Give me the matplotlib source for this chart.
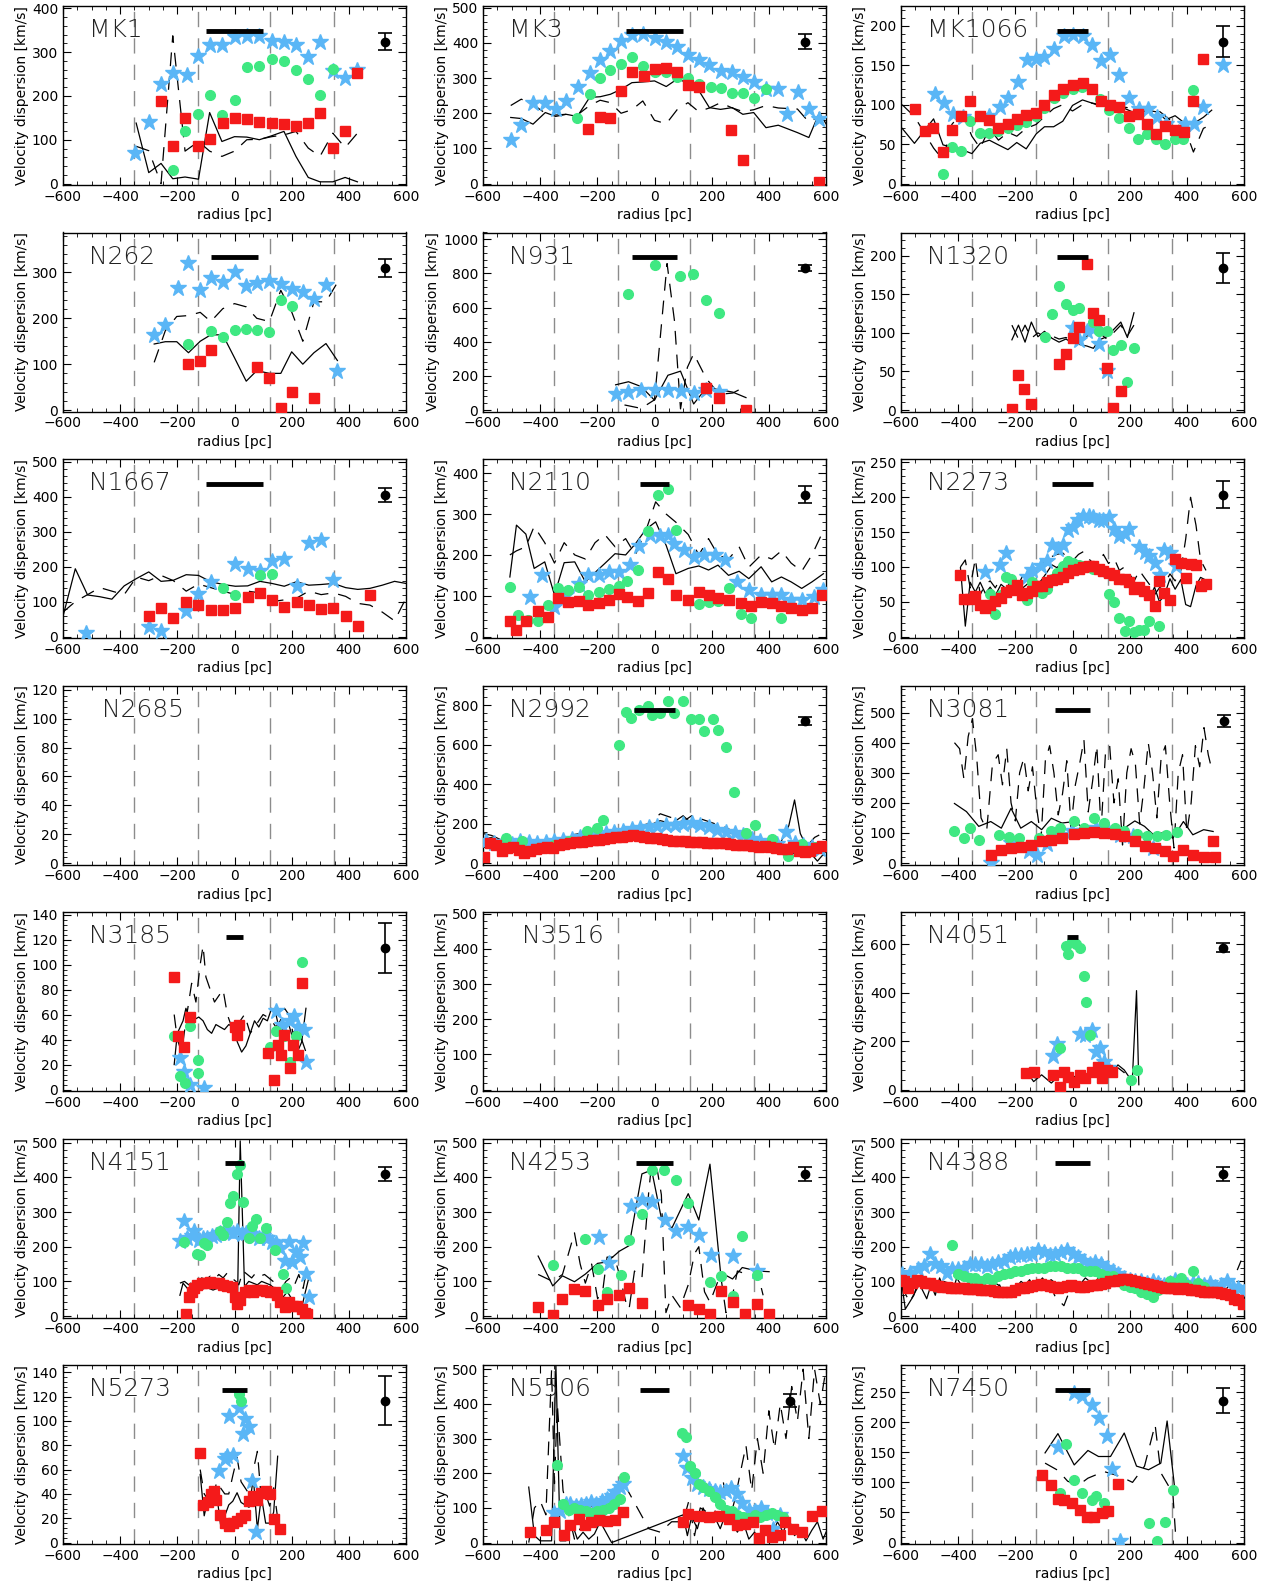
import matplotlib
matplotlib.use("Agg")
import matplotlib.pyplot as plt
from matplotlib.ticker import MultipleLocator, AutoMinorLocator

plt.rcParams['font.family'] = ['DejaVu Sans']

# ---------------- data ----------------
# s = blue stars, g = green circles, r = red squares, l = solid line, d = dashed line

# MK1
mk1_sx = [-347, -300, -257, -216, -167, -126, -85, -44, 0, 43, 87, 130, 173, 215, 258, 299, 344, 387, 430]
mk1_sy = [70, 141, 228, 252, 247, 292, 316, 316, 335, 337, 337, 326, 322, 316, 288, 324, 256, 241, 258]
mk1_gx = [-216, -173, -128, -87, -44, 0, 43, 87, 130, 173, 215, 258, 299, 344]
mk1_gy = [31, 119, 158, 203, 156, 190, 265, 268, 284, 279, 258, 238, 202, 262]
mk1_rx = [-257, -216, -172, -128, -87, -41, 0, 43, 84, 130, 173, 215, 258, 299, 344, 387, 430]
mk1_ry = [188, 86, 149, 86, 102, 138, 149, 147, 141, 139, 135, 131, 138, 162, 81, 120, 252]
mk1_lx = [-344, -300, -257, -216, -173, -126, -87, -44, 0, 43, 87, 130, 173, 215, 258, 299, 344, 387, 430]
mk1_ly = [138, 25, 46, 11, 15, 10, 162, 96, 107, 106, 100, 109, 119, 62, 14, 4, 4, 14, 4]
mk1_dx = [-344, -300, -257, -216, -173, -126, -87, -44, 0, 43, 87, 130, 173, 215, 258, 299, 344, 387, 430]
mk1_dy = [85, 75, 0, 337, 74, 96, 74, 62, 74, 100, 101, 107, 111, 119, 81, 62, 115, 82, 115]

# MK3
mk3_sx = [-503, -466, -425, -382, -346, -309, -268, -227, -190, -154, -117, -79, -41, 0, 41, 79, 117, 154, 192,
          231, 272, 309, 347, 390, 433, 464, 501, 539, 577]
mk3_sy = [123, 166, 228, 228, 213, 235, 276, 314, 352, 376, 406, 422, 425, 415, 403, 387, 365, 352, 337,
          321, 316, 302, 289, 268, 268, 199, 261, 213, 183]
mk3_gx = [-270, -227, -190, -154, -117, -79, -41, 0, 41, 79, 117, 154, 196, 233, 272, 309, 347, 390]
mk3_gy = [186, 254, 300, 323, 341, 361, 334, 317, 317, 303, 300, 284, 275, 272, 258, 257, 242, 268]
mk3_rx = [-233, -190, -154, -117, -78, -37, 0, 41, 79, 117, 154, 268, 309, 577]
mk3_ry = [155, 188, 186, 262, 316, 306, 325, 328, 316, 280, 276, 152, 66, 5]
mk3_lx = [-503, -466, -425, -382, -346, -309, -270, -227, -190, -154, -117, -79, -41, 0, 41, 79, 117, 154, 192,
          231, 272, 309, 347, 390, 433, 500, 540, 577, 600]
mk3_ly = [188, 185, 169, 202, 191, 197, 191, 245, 247, 254, 268, 287, 289, 292, 276, 297, 287, 266, 216,
          211, 216, 197, 202, 159, 166, 145, 131, 202, 170]
mk3_dx = [-503, -466, -425, -382, -346, -309, -270, -227, -190, -154, -117, -79, -41, 0, 41, 79, 117, 154, 192,
          231, 272, 309, 347, 390, 433, 500, 540, 577]
mk3_dy = [222, 240, 225, 200, 195, 197, 195, 222, 237, 230, 200, 210, 235, 180, 170, 210, 230, 205, 215,
          230, 215, 205, 210, 222, 215, 212, 175, 190]

# MK1066
mk1066_sx = [-482, -451, -418, -383, -291, -255, -224, -192, -160, -127, -99, -63, -31, 0, 35, 68, 99, 132, 164,
             199, 231, 263, 295, 327, 394, 426, 458, 528]
mk1066_sy = [114, 102, 88, 84, 86, 97, 108, 129, 157, 158, 160, 171, 187, 188, 187, 176, 155, 163, 138,
             108, 95, 95, 84, 76, 76, 76, 97, 150]
mk1066_gx = [-453, -422, -389, -358, -323, -291, -259, -226, -195, -162, -129, -98, -66, -34, 0, 33, 97, 129,
             164, 196, 228, 260, 292, 324, 359, 388, 423]
mk1066_gy = [12, 46, 41, 79, 64, 64, 67, 70, 74, 78, 85, 96, 108, 115, 120, 123, 107, 93,
             83, 70, 56, 63, 56, 50, 57, 57, 118]
mk1066_rx = [-551, -517, -488, -453, -422, -389, -358, -323, -291, -259, -226, -195, -162, -129, -98, -66, -34,
             0, 35, 68, 99, 132, 164, 196, 228, 260, 292, 324, 359, 391, 423, 458]
mk1066_ry = [95, 67, 70, 40, 68, 86, 105, 86, 80, 70, 76, 82, 87, 90, 100, 112, 120,
             125, 127, 120, 104, 100, 97, 86, 88, 75, 63, 73, 68, 65, 105, 158]
mk1066_lx = [-596, -553, -486, -453, -387, -352, -323, -291, -259, -226, -195, -162, -127, -98, -66, -34, 0, 35,
             68, 99, 132, 164, 196, 228, 260, 292, 327, 359, 391, 423, 458, 487]
mk1066_ly = [70, 51, 82, 49, 43, 38, 51, 55, 49, 43, 52, 44, 63, 72, 72, 79, 99, 106,
             102, 98, 98, 98, 93, 88, 93, 91, 81, 86, 77, 76, 84, 93]
mk1066_dx = [-596, -553, -486, -453, -422, -387, -352, -323, -291, -259, -226, -195, -162, -127, -98, -66, -34,
             0, 35, 68, 99, 132, 164, 196, 228, 260, 292, 327, 359, 391, 423, 458, 487]
mk1066_dy = [100, 85, 45, 30, 75, 90, 60, 45, 70, 55, 65, 60, 70, 75, 85, 95, 100,
             92, 100, 102, 100, 96, 98, 96, 92, 96, 95, 85, 75, 72, 40, 70, 75]

# N262
n262_sx = [-283, -242, -199, -161, -120, -83, -41, 0, 41, 78, 122, 162, 200, 239, 278, 320, 360]
n262_sy = [164, 186, 266, 320, 261, 288, 279, 300, 270, 277, 282, 275, 264, 257, 241, 273, 86]
n262_gx = [-161, -83, -41, 0, 41, 78, 119, 162, 200]
n262_gy = [143, 173, 159, 175, 177, 175, 170, 239, 226]
n262_rx = [-161, -122, -83, 78, 119, 162, 200, 278]
n262_ry = [101, 107, 131, 93, 71, 4, 39, 27]
n262_lx = [-281, -242, -202, -161, -120, -83, -41, 0, 41, 78, 122, 162, 200, 239, 278, 320, 360]
n262_ly = [144, 149, 149, 125, 150, 164, 164, 114, 63, 86, 80, 80, 127, 100, 125, 145, 108]
n262_dx = [-281, -242, -202, -161, -120, -83, -41, 0, 41, 78, 122, 162, 200, 239, 278, 320, 360]
n262_dy = [104, 173, 204, 206, 213, 193, 221, 232, 225, 200, 193, 261, 214, 150, 236, 236, 278]

# N931
n931_sx = [-136, -91, -47, 0, 47, 91, 137, 181, 225]
n931_sy = [97, 105, 116, 116, 116, 110, 101, 120, 105]
n931_gx = [-91, 0, 90, 136, 181, 227]
n931_gy = [677, 852, 787, 798, 643, 568]
n931_rx = [181, 227, 320]
n931_ry = [129, 73, 2]
n931_lx = [-136, -91, -47, 0, 47, 91, 137, 181, 227, 274, 320]
n931_ly = [148, 166, 138, 58, 204, 228, 36, 129, 120, 105, 73]
n931_dx = [-105, -47, 0, 44, 70, 91, 115, 137, 181, 227, 274, 320]
n931_dy = [30, 10, 60, 858, 521, 7, 250, 330, 185, 92, 100, 140]

# N1320
n1320_sx = [0, 24, 50, 70, 94, 120]
n1320_sy = [106, 91, 103, 105, 86, 51]
n1320_gx = [-95, -72, -47, -23, 0, 24, 70, 94, 120, 143, 169, 192, 215]
n1320_gy = [95, 124, 161, 137, 129, 132, 114, 102, 102, 78, 84, 37, 80]
n1320_rx = [-213, -189, -168, -144, -47, -23, 0, 24, 50, 73, 94, 120, 143, 169]
n1320_ry = [1, 45, 27, 8, 60, 73, 94, 107, 189, 126, 117, 54, 3, 25]
n1320_lx = [-212, -189, -166, -144, -121, -98, -72, -47, -23, 0, 24, 50, 73, 94, 120, 143, 169, 192, 215]
n1320_ly = [91, 110, 88, 114, 95, 102, 93, 88, 92, 87, 85, 83, 80, 91, 95, 104, 114, 94, 126]
n1320_dx = [-212, -189, -166, -144, -121, -98, -72, -47, -23, 0, 24, 50, 73, 94, 120, 143, 169, 192, 215]
n1320_dy = [110, 92, 110, 93, 100, 95, 96, 92, 94, 90, 92, 95, 123, 100, 92, 100, 110, 96, 110]

# N1667
n1667_sx = [-520, -300, -257, -169, -126, -83, 3, 46, 89, 131, 174, 217, 260, 303, 346]
n1667_sy = [10, 27, 17, 72, 122, 155, 208, 192, 187, 216, 223, 145, 267, 277, 163]
n1667_gx = [-40, 3, 89, 131]
n1667_gy = [138, 119, 177, 180]
n1667_rx = [-300, -257, -214, -169, -126, -83, -40, 3, 46, 89, 131, 174, 217, 260, 303, 346, 389, 431, 474]
n1667_ry = [58, 83, 53, 100, 91, 76, 76, 81, 114, 126, 105, 86, 98, 91, 79, 83, 58, 29, 119]
n1667_lx = [-600, -557, -514, -471, -429, -386, -343, -300, -257, -214, -169, -126, -83, -40, 3, 46, 89, 131,
            174, 217, 260, 303, 346, 389, 431, 474, 517, 560, 600]
n1667_ly = [58, 194, 119, 114, 107, 145, 166, 185, 158, 161, 177, 175, 157, 149, 144, 145, 158, 152,
            144, 157, 147, 149, 152, 140, 135, 138, 147, 158, 152]
n1667_dx = [-600, -557, -514, -471, -429, -386, -343, -300, -257, -214, -169, -126, -83, -40, 3, 46, 89, 131,
            174, 217, 260, 303, 346, 389, 431, 474, 517, 560, 600]
n1667_dy = [70, 100, 120, 140, 130, 120, 170, 160, 175, 160, 130, 150, 140, 130, 120, 130, 125, 100,
            105, 110, 130, 120, 125, 115, 95, 90, 70, 45, 110]

# N2110
n2110_sx = [-435, -393, -350, -308, -265, -231, -194, -158, -124, -87, -53, -16, 18, 47, 69, 104, 138, 174, 211,
            245, 288, 330, 373, 410, 444, 478, 515, 557, 591]
n2110_sy = [98, 152, 72, 102, 130, 152, 152, 157, 158, 175, 223, 249, 247, 249, 227, 211, 195, 199, 200,
            187, 134, 114, 102, 102, 101, 90, 90, 96, 114]
n2110_gx = [-506, -478, -441, -407, -373, -339, -302, -265, -231, -194, -158, -124, -95, -58, -24, 13, 47, 75,
            118, 155, 189, 222, 259, 302, 336, 444]
n2110_gy = [122, 54, 40, 38, 78, 118, 113, 122, 102, 109, 117, 125, 136, 163, 259, 346, 361, 261,
            90, 80, 84, 88, 118, 56, 46, 46]
n2110_rx = [-506, -486, -450, -407, -373, -339, -302, -265, -231, -194, -158, -124, -95, -58, -24, 13, 47, 75,
            118, 155, 189, 222, 259, 302, 336, 373, 410, 444, 478, 515, 551, 586]
n2110_ry = [39, 15, 39, 62, 47, 94, 84, 88, 78, 82, 90, 104, 96, 88, 106, 158, 140, 102,
            90, 110, 102, 94, 90, 82, 74, 84, 82, 74, 70, 66, 70, 102]
n2110_lx = [-506, -483, -450, -421, -384, -350, -316, -279, -242, -208, -174, -138, -101, -67, -30, 4, 41, 75,
            118, 155, 189, 222, 259, 296, 330, 373, 410, 444, 478, 515, 551, 591]
n2110_ly = [146, 273, 251, 167, 183, 102, 181, 183, 134, 157, 179, 203, 200, 227, 263, 281, 223, 154,
            167, 173, 163, 175, 150, 160, 142, 171, 134, 146, 134, 118, 134, 154]
n2110_dx = [-506, -483, -450, -421, -384, -350, -316, -279, -242, -208, -174, -138, -101, -67, -30, 4, 41, 75,
            118, 155, 189, 222, 259, 296, 330, 373, 410, 444, 478, 515, 551, 591]
n2110_dy = [200, 210, 220, 270, 230, 180, 230, 200, 190, 230, 250, 220, 240, 200, 260, 330, 300, 280,
            250, 200, 240, 200, 190, 220, 170, 200, 190, 210, 180, 160, 200, 260]

# N2273
n2273_sx = [-305, -253, -233, -159, -142, -111, -90, -72, -52, -34, -14, 3, 19, 36, 56, 73, 91, 108, 126, 146,
            164, 182, 199, 234, 252, 269, 289, 306, 321, 341, 362]
n2273_sy = [93, 103, 120, 86, 96, 101, 108, 131, 126, 131, 153, 157, 167, 173, 173, 171, 168, 168, 171, 154,
            145, 148, 155, 129, 122, 115, 106, 89, 124, 120, 101]
n2273_gx = [-288, -270, -250, -233, -214, -177, -159, -142, -125, -107, -90, -72, -55, -34, -14, 3, 21, 38, 56,
            73, 126, 146, 164, 182, 199, 215, 233, 250, 269, 304]
n2273_gy = [61, 33, 60, 86, 83, 59, 52, 78, 65, 62, 69, 83, 91, 101, 109, 106, 103, 101, 100,
            97, 61, 50, 26, 8, 23, 6, 10, 10, 23, 15]
n2273_rx = [-392, -381, -358, -340, -323, -305, -288, -270, -250, -233, -214, -195, -177, -159, -142, -125, -107,
            -90, -72, -55, -34, -14, 3, 21, 38, 56, 73, 91, 108, 126, 146, 164, 182, 199, 216, 234, 251, 269,
            287, 304, 321, 341, 359, 379, 396, 413, 432, 448, 467]
n2273_ry = [88, 54, 54, 58, 45, 41, 45, 51, 55, 64, 67, 74, 59, 63, 66, 73, 73,
            78, 81, 83, 86, 92, 96, 97, 100, 101, 101, 97, 94, 91, 88, 82, 82, 79, 68, 71, 65, 59,
            44, 80, 63, 53, 111, 105, 84, 104, 103, 72, 75]
n2273_lx = [-392, -375, -358, -340, -323, -305, -288, -270, -250, -233, -214, -195, -177, -159, -142, -125, -107,
            -90, -72, -55, -34, -14, 3, 21, 38, 56, 73, 91, 108, 126, 146, 164, 182, 199, 216, 234, 251, 269,
            287, 304, 321, 341, 359, 379, 396, 413, 432, 448, 467]
n2273_ly = [99, 15, 78, 64, 78, 62, 71, 59, 75, 69, 80, 59, 69, 75, 85, 73, 82,
            92, 103, 99, 106, 103, 101, 99, 106, 101, 91, 94, 86, 92, 82, 85, 78, 80, 69, 75, 65, 55,
            71, 50, 59, 83, 68, 82, 46, 43, 73, 85, 81]
n2273_dx = n2273_lx
n2273_dy = [100, 110, 70, 112, 60, 75, 80, 70, 85, 80, 78, 70, 85, 90, 100, 95, 105,
            110, 115, 118, 120, 112, 110, 118, 122, 112, 105, 100, 118, 105, 112, 95, 100, 90, 80, 95, 85, 75,
            60, 70, 75, 90, 80, 95, 140, 200, 160, 110, 95]

# N2992
n2992_sx = [-590, -560, -530, -500, -470, -440, -410, -380, -350, -320, -290, -260, -230, -200, -170, -140,
            -110, -80, -50, -20, 10, 40, 70, 100, 130, 160, 190, 220, 250, 280, 310, 340, 370, 400, 430, 460,
            490, 520, 550, 580]
n2992_sy = [110, 100, 105, 95, 110, 105, 100, 105, 110, 115, 120, 130, 140, 145, 150, 155,
            165, 175, 180, 185, 190, 195, 195, 200, 205, 195, 185, 170, 160, 150, 140, 120, 110, 100, 95, 160,
            100, 90, 80, 70]
n2992_gx = [-520, -464, -407, -350, -300, -237, -200, -180, -124, -101, -81, -55, -24, -10, 20, 47, 69, 98, 126,
            155, 174, 203, 223, 250, 279, 320, 353, 410, 468, 515, 560]
n2992_gy = [128, 112, 78, 90, 110, 162, 178, 220, 600, 765, 737, 775, 795, 748, 760, 820, 762, 820, 728,
            728, 670, 728, 673, 587, 362, 150, 195, 120, 37, 95, 80]
n2992_rx = [-595, -575, -555, -535, -515, -495, -475, -455, -435, -415, -395, -375, -355, -335, -315, -295,
            -275, -255, -235, -215, -195, -175, -155, -135, -115, -95, -75, -55, -35, -15, 5, 25, 45, 65, 85,
            105, 125, 145, 165, 185, 205, 225, 245, 265, 285, 305, 325, 345, 365, 385, 405, 425, 445, 465,
            485, 505, 525, 545, 565, 585]
n2992_ry = [30, 100, 90, 60, 75, 80, 65, 50, 60, 70, 75, 80, 75, 90, 95, 100,
            105, 105, 110, 115, 115, 120, 125, 130, 130, 135, 140, 135, 130, 125, 125, 120, 115, 110, 110,
            110, 105, 105, 105, 100, 100, 100, 100, 95, 90, 90, 90, 85, 80, 85, 80, 75, 70, 70,
            80, 60, 55, 60, 75, 85]
n2992_lx = [-600, -570, -540, -500, -460, -420, -380, -340, -300, -260, -220, -180, -140, -100, -60, -20, 20,
            60, 100, 130, 170, 210, 250, 290, 330, 370, 410, 440, 470, 490, 510, 540, 570, 600]
n2992_ly = [150, 140, 120, 100, 95, 110, 100, 105, 110, 120, 115, 130, 150, 170, 175, 190, 215,
            200, 240, 200, 185, 190, 160, 140, 130, 110, 90, 100, 190, 320, 150, 60, 10, 60]
n2992_dx = [-600, -570, -540, -500, -460, -420, -380, -340, -300, -260, -220, -180, -140, -100, -60, -20, 20,
            60, 100, 130, 170, 210, 250, 290, 330, 370, 410, 440, 470, 500, 530, 560, 600]
n2992_dy = [120, 130, 100, 110, 90, 95, 100, 120, 140, 150, 130, 100, 140, 170, 185, 200, 250,
            230, 210, 240, 220, 200, 180, 150, 130, 110, 100, 80, 60, 40, 80, 130, 160]

# N3081
n3081_sx = [-286, -215, -153, -125, -88, -45, -3, 40, 82, 125, 167, 210, 283]
n3081_sy = [1, 67, 39, 28, 64, 94, 105, 107, 116, 111, 94, 89, 50]
n3081_gx = [-413, -380, -357, -328, -258, -221, -187, -116, -74, -45, 6, 40, 76, 110, 147, 181, 224, 260, 294,
            328, 365]
n3081_gy = [107, 83, 116, 78, 94, 85, 83, 83, 105, 118, 140, 116, 151, 133, 116, 105, 96, 91, 91, 94, 103]
n3081_rx = [-286, -249, -215, -181, -144, -108, -74, -37, 6, 40, 76, 110, 147, 181, 218, 252, 289, 323, 351,
            388, 421, 459, 492, 500]
n3081_ry = [28, 42, 50, 53, 61, 72, 78, 83, 96, 100, 103, 100, 96, 89, 75, 56, 50, 39, 23, 45, 28, 20, 72, 20]
n3081_lx = [-413, -371, -328, -286, -249, -215, -181, -144, -108, -74, -37, 6, 40, 76, 110, 147, 181, 218, 252,
            289, 323, 351, 388, 421, 459, 492]
n3081_ly = [198, 171, 122, 138, 116, 182, 116, 138, 111, 149, 133, 138, 116, 122, 116, 116, 116, 140, 122,
            89, 105, 83, 138, 94, 111, 105]
n3081_dx = [-413, -395, -380, -365, -350, -335, -320, -300, -280, -260, -245, -230, -215, -200, -185, -170,
            -155, -140, -125, -110, -95, -80, -65, -50, -35, -20, -5, 10, 25, 40, 55, 70, 85, 100, 115, 130,
            145, 160, 175, 190, 205, 220, 235, 250, 265, 280, 295, 310, 325, 340, 355, 370, 385, 400, 415,
            430, 445, 460, 475, 490]
n3081_dy = [400, 380, 280, 420, 480, 350, 150, 110, 330, 360, 260, 380, 200, 140, 300, 350,
            240, 320, 180, 80, 340, 390, 300, 160, 230, 340, 120, 260, 330, 410, 170, 270, 390, 110, 360, 390,
            200, 280, 60, 300, 380, 330, 130, 250, 400, 300, 150, 350, 390, 200, 50, 300, 360, 100, 200,
            390, 320, 450, 360, 300]

# N3185
n3185_sx = [-191, -177, -157, -106, 146, 166, 194, 209, 223, 243, 251]
n3185_sy = [25, 14, 4, 1, 63, 52, 55, 59, 50, 48, 22]
n3185_gx = [-211, -191, -174, -157, -129, -126, 123, 146, 174, 194, 214, 237]
n3185_gy = [43, 11, 5, 51, 13, 24, 34, 47, 43, 22, 43, 102]
n3185_rx = [-211, -197, -177, -157, 3, 17, 9, 117, 137, 151, 163, 174, 194, 203, 223, 237]
n3185_ry = [90, 43, 34, 58, 50, 52, 44, 29, 8, 36, 28, 44, 17, 36, 28, 85]
n3185_lx = [-211, -200, -190, -180, -170, -160, -150, -140, -125, -110, -95, -80, -65, -50, -35, -20, -5, 10,
            25, 40, 55, 70, 85, 100, 115, 130, 145, 160, 175, 190, 205, 220, 235, 250]
n3185_ly = [20, 45, 50, 55, 65, 58, 50, 56, 58, 55, 48, 45, 52, 50, 48, 52, 50, 38,
            30, 35, 45, 55, 50, 57, 55, 65, 60, 45, 50, 52, 40, 30, 38, 65]
n3185_dx = [-211, -200, -185, -170, -150, -135, -120, -110, -100, -85, -70, -55, -40, -25, -10, 5, 20, 35,
            55, 70, 85, 100, 115, 130, 145, 160, 175, 190, 205, 220, 235, 250]
n3185_dy = [60, 40, 30, 55, 85, 70, 100, 115, 90, 80, 70, 75, 80, 60, 50, 45, 55, 60,
            45, 50, 55, 60, 58, 55, 50, 55, 65, 60, 45, 50, 40, 30]

# N4051
n4051_sx = [-68, -54, 25, 45, 68, 82, 96, 110, 125]
n4051_sy = [140, 190, 231, 225, 248, 156, 170, 115, 88]
n4051_gx = [-45, -23, -17, -3, 11, 25, 40, 48, 62, 204, 224]
n4051_gy = [170, 593, 559, 614, 600, 586, 470, 361, 224, 40, 81]
n4051_rx = [-164, -136, -68, -45, -31, -17, 6, 25, 45, 68, 88, 102, 119, 139]
n4051_ry = [68, 72, 61, 10, 74, 54, 33, 61, 47, 74, 95, 47, 81, 74]
n4051_lx = [-164, -136, -108, -74, -45, -11, 25, 62, 96, 125, 159, 181, 209, 224, 232]
n4051_ly = [81, 33, 61, 27, 61, 47, 61, 68, 88, 54, 102, 81, 33, 409, 20]
n4051_dx = [-164, -136, -108, -74, -45, -11, 25, 62, 96, 125, 159, 181, 209]
n4051_dy = [70, 50, 45, 40, 55, 30, 50, 70, 60, 80, 90, 70, 20]

# N4151
n4151_sx = [-191, -177, -165, -150, -140, -125, -110, -95, -80, -65, -50, -35, -20, -5, 10, 25, 40, 55, 70, 85,
            100, 115, 130, 145, 160, 175, 190, 200, 215, 230, 240, 250, 260]
n4151_sy = [216, 273, 225, 230, 245, 220, 225, 225, 230, 235, 240, 242, 245, 240, 245, 238, 240, 238, 230, 225,
            232, 225, 215, 210, 195, 160, 215, 155, 185, 170, 210, 120, 55]
n4151_gx = [-177, -130, -120, -105, -95, -50, -40, -25, -15, -5, 10, 20, 30, 50, 60, 75, 90, 110, 140, 170, 180]
n4151_gy = [215, 180, 175, 210, 205, 245, 235, 270, 325, 345, 410, 435, 330, 225, 260, 280, 225, 255, 190, 120, 80]
n4151_rx = [-170, -160, -150, -140, -130, -115, -100, -85, -70, -55, -40, -25, -10, 0, 10, 20, 35, 50, 65, 80,
            95, 110, 125, 140, 150, 160, 175, 190, 205, 220, 235, 245, 255]
n4151_ry = [5, 55, 70, 80, 90, 95, 95, 97, 95, 95, 90, 88, 85, 55, 35, 45, 70, 75, 70, 75,
            75, 72, 70, 68, 60, 40, 25, 40, 30, 30, 20, 10, 5]
n4151_lx = [-191, -180, -165, -150, -135, -120, -105, -90, -75, -60, -45, -30, -15, 0, 10, 20, 35, 50, 65, 80,
            95, 110, 125, 140, 155, 170, 185, 200, 215, 230, 245, 260]
n4151_ly = [60, 95, 80, 65, 85, 75, 80, 80, 75, 80, 85, 80, 85, 75, 20, 505, 85, 100, 95, 90,
            100, 95, 90, 80, 70, 55, 70, 50, 25, 5, 60, 110]
n4151_dx = [-191, -175, -160, -145, -130, -115, -100, -85, -70, -55, -40, -25, -10, 5, 15, 30, 45, 60, 75, 90,
            105, 120, 135, 150, 165, 180, 195, 210, 225, 240, 255]
n4151_dy = [95, 100, 90, 100, 95, 110, 105, 115, 105, 120, 110, 125, 110, 100, 90, 130, 120, 110, 125, 115,
            120, 110, 100, 90, 80, 100, 110, 90, 120, 80, 140]

# N4253
n4253_sx = [-194, -160, -81, -44, -10, 38, 75, 118, 155, 197, 273, 359]
n4253_sy = [228, 154, 317, 334, 329, 277, 244, 258, 235, 175, 173, 130]
n4253_gx = [-356, -242, -199, -166, -118, -89, -44, -10, 33, 75, 118, 194, 231, 273, 307, 359]
n4253_gy = [147, 222, 137, 70, 119, 220, 293, 422, 420, 393, 327, 97, 116, 59, 232, 118]
n4253_rx = [-407, -356, -322, -280, -242, -199, -166, -123, -89, -44, 118, 155, 194, 231, 273, 317, 359, 401]
n4253_ry = [26, 4, 50, 78, 72, 33, 50, 62, 80, 38, 33, 21, 7, 73, 42, 7, 36, 7]
n4253_lx = [-407, -356, -322, -280, -242, -199, -166, -123, -89, -44, -10, 24, 61, 118, 155, 194, 231, 273, 307,
            359, 401]
n4253_ly = [173, 87, 116, 99, 121, 152, 156, 187, 203, 410, 421, 282, 254, 353, 277, 438, 126, 107, 140,
            130, 128]
n4253_dx = [-407, -356, -322, -280, -260, -242, -220, -199, -180, -166, -140, -123, -100, -89, -70, -44, -20,
            -10, 10, 24, 40, 61, 90, 118, 140, 155, 175, 194, 231, 250, 273, 290, 307, 330, 359, 380]
n4253_dy = [120, 100, 120, 240, 150, 95, 150, 50, 80, 170, 170, 120, 40, 20, 130, 110, 360,
            440, 420, 350, 10, 60, 25, 90, 180, 200, 70, 40, 120, 10, 60, 130, 125, 135, 130, 60]

# N4388
n4388_sx = [-595, -570, -540, -520, -500, -480, -460, -440, -420, -400, -380, -360, -340, -320, -300, -280,
            -260, -240, -220, -200, -180, -160, -140, -120, -100, -80, -60, -40, -20, 0, 20, 40, 60, 80, 100,
            120, 140, 160, 180, 200, 220, 240, 260, 280, 300, 320, 340, 360, 380, 400, 420, 440, 460, 480,
            500, 520, 540, 560, 580, 600]
n4388_sy = [120, 125, 135, 145, 180, 150, 145, 125, 135, 135, 140, 150, 150, 150, 145, 150,
            155, 160, 170, 175, 175, 180, 180, 190, 185, 175, 180, 185, 190, 180, 170, 160, 150, 155, 150,
            140, 130, 120, 110, 105, 100, 100, 95, 100, 95, 90, 95, 105, 95, 90, 95, 95, 90, 95,
            85, 90, 100, 85, 80, 70]
n4388_gx = [-420, -400, -380, -360, -340, -320, -300, -280, -260, -240, -220, -200, -180, -160, -140, -120,
            -100, -80, -60, -40, -20, 0, 20, 40, 60, 80, 100, 120, 140, 160, 180, 200, 220, 240, 260, 280,
            300, 320, 340, 360, 380, 400, 420, 440, 460]
n4388_gy = [205, 120, 115, 110, 110, 100, 110, 105, 115, 120, 125, 130, 130, 135, 140, 140,
            140, 145, 145, 145, 140, 140, 140, 130, 130, 130, 120, 115, 115, 100, 90, 85, 80, 70, 65, 55,
            75, 80, 100, 95, 110, 90, 130, 95, 85]
n4388_rx = [-600, -590, -575, -560, -545, -530, -515, -500, -485, -470, -455, -440, -425, -410, -395, -380,
            -365, -350, -335, -320, -305, -290, -275, -260, -245, -230, -215, -200, -185, -170, -155, -140,
            -125, -110, -95, -80, -65, -50, -35, -20, -5, 10, 25, 40, 55, 70, 85, 100, 115, 130, 145, 160,
            175, 190, 205, 220, 235, 250, 265, 280, 295, 310, 325, 340, 355, 370, 385, 400, 415, 430, 445,
            460, 475, 490, 505, 520, 535, 550, 565, 580, 595]
n4388_ry = [105, 100, 80, 95, 105, 100, 95, 95, 90, 88, 85, 85, 82, 80, 80, 80,
            78, 78, 77, 76, 75, 74, 72, 70, 68, 68, 70, 75, 80, 82, 85, 88,
            90, 92, 90, 88, 85, 82, 85, 88, 90, 88, 85, 85, 88, 90, 90, 92, 95, 100, 102, 105,
            108, 108, 105, 100, 98, 95, 92, 90, 88, 85, 82, 80, 80, 78, 80, 78, 75, 75, 72,
            70, 70, 68, 68, 66, 65, 60, 50, 45, 35]
n4388_lx = [-600, -585, -570, -555, -540, -525, -510, -495, -480, -465, -450, -435, -420, -405, -390, -375,
            -360, -345, -330, -315, -300, -285, -270, -255, -240, -225, -210, -195, -180, -165, -150, -135,
            -120, -105, -90, -75, -60, -45, -30, -15, 0, 15, 30, 45, 60, 75, 90, 105, 120, 135, 150, 165,
            180, 195, 210, 225, 240, 255, 270, 285, 300, 315, 330, 345, 360, 375, 390, 405, 420, 435, 450,
            465, 480, 495, 510, 525, 540, 555, 570, 585, 600]
n4388_ly = [110, 20, 40, 60, 100, 75, 50, 90, 60, 110, 80, 95, 70, 110, 90, 75,
            100, 80, 105, 85, 65, 90, 75, 90, 60, 80, 70, 85, 100, 90, 105, 80,
            95, 110, 90, 105, 95, 85, 95, 100, 90, 100, 95, 110, 100, 90, 110, 100, 95, 90, 100, 95,
            100, 90, 95, 85, 95, 80, 90, 75, 85, 80, 70, 80, 75, 85, 70, 80, 75, 80, 70,
            75, 65, 80, 60, 65, 70, 55, 60, 45, 30]
n4388_dx = [-600, -570, -540, -510, -480, -450, -420, -390, -360, -330, -300, -270, -240, -210, -180, -150,
            -120, -90, -60, -30, 0, 30, 60, 90, 120, 150, 180, 210, 240, 270, 300, 330, 360, 390, 420, 450,
            480, 510, 540, 570, 590]
n4388_dy = [90, 40, 85, 100, 70, 100, 90, 80, 75, 80, 85, 95, 80, 75, 90, 95,
            100, 110, 55, 30, 95, 90, 100, 95, 100, 90, 95, 85, 90, 80, 85, 75, 80, 70, 75, 70,
            80, 60, 80, 120, 160]

# N5273
n5273_sx = [-54, -34, -26, -20, -6, 17, 31, 37, 51, 60, 74]
n5273_sy = [59, 69, 71, 104, 72, 111, 89, 102, 95, 51, 9]
n5273_gx = [14, 23]
n5273_gy = [122, 116]
n5273_rx = [-120, -111, -91, -83, -71, -63, -49, -34, -20, -6, 9, 23, 37, 51, 66, 80, 94, 109, 123, 137, 160]
n5273_ry = [74, 31, 33, 40, 42, 35, 23, 16, 14, 16, 18, 20, 23, 34, 38, 35, 41, 42, 40, 19, 11]
n5273_lx = [-120, -106, -91, -77, -63, -49, -34, -20, -6, 9, 23, 37, 51, 66, 80, 94, 109, 123, 137, 151]
n5273_ly = [56, 22, 38, 34, 41, 15, 22, 31, 34, 41, 33, 31, 29, 53, 11, 38, 16, 16, 25, 71]
n5273_dx = [-120, -106, -91, -77, -63, -49, -34, -20, -6, 9, 23, 37, 51, 66, 80, 94, 109, 123, 137, 151]
n5273_dy = [60, 40, 35, 30, 50, 45, 40, 40, 55, 70, 50, 45, 40, 60, 75, 35, 40, 30, 45, 20]

# N5506
n5506_sx = [-350, -330, -310, -294, -275, -257, -240, -223, -205, -185, -166, -150, -138, -120, -109,
            98, 112, 132, 150, 170, 190, 210, 230, 250, 267, 287, 307, 330, 350, 373, 395, 416, 440]
n5506_sy = [85, 90, 110, 112, 105, 108, 112, 116, 110, 120, 125, 135, 145, 160, 170,
            250, 215, 185, 170, 160, 155, 150, 145, 150, 158, 140, 115, 95, 90, 100, 85, 40, 80]
n5506_gx = [-340, -320, -300, -280, -260, -240, -220, -200, -180, -160, -140, -120, -105,
            95, 110, 125, 140, 155, 170, 190, 210, 230, 250, 270, 290, 310, 330, 350, 370, 390, 410, 430, 450]
n5506_gy = [225, 110, 95, 100, 95, 90, 85, 90, 95, 100, 110, 125, 190,
            315, 305, 220, 200, 170, 160, 150, 130, 110, 95, 90, 80, 75, 70, 80, 75, 80, 85, 80, 75]
n5506_rx = [-435, -379, -350, -316, -294, -265, -242, -223, -194, -166, -138, -109,
            98, 118, 155, 189, 226, 260, 288, 316, 345, 365, 387, 410, 438, 458, 486, 515, 551, 586]
n5506_ry = [30, 35, 59, 21, 50, 69, 50, 59, 66, 61, 64, 88,
            59, 83, 78, 73, 76, 69, 50, 54, 59, 13, 35, 17, 21, 59, 40, 30, 78, 92]
n5506_lx = [-440, -420, -400, -380, -360, -345, -330, -310, -290, -270, -250, -230, -210, -190, -170, -150,
            100, 115, 130, 150, 170, 190, 210, 230, 250, 270, 290, 310, 330, 350, 370, 390, 410, 430, 450,
            470, 490, 510, 530, 550, 570, 590, 600]
n5506_ly = [160, 20, 5, 5, 5, 515, 5, 5, 60, 10, 30, 10, 25, 60, 30, 0,
            80, 20, 75, 40, 100, 60, 75, 40, 85, 60, 30, 60, 10, 30, 5, 40, 20, 60, 30,
            70, 20, 40, 5, 35, 60, 10, 30]
n5506_dx = [-440, -420, -400, -380, -360, -350, -340, -320, -300, -280, -260, -240, -220, -200, -180, -160,
            -130, -100, -60, -20, 20, 60, 100, 120, 140, 160, 180, 200, 220, 240, 260, 280, 300, 320, 340,
            360, 380, 400, 420, 440, 460, 480, 500, 520, 540, 560, 580, 600]
n5506_dy = [0, 100, 120, 80, 500, 170, 400, 150, 80, 10, 40, 60, 110, 70, 60, 120,
            160, 160, 100, 40, 30, 60, 60, 120, 20, 100, 90, 60, 110, 180, 60, 120, 200, 280, 150,
            300, 200, 380, 270, 400, 300, 450, 350, 500, 300, 500, 400, 500]

# N7450
n7450_sx = [-51, 6, 34, 68, 91, 119, 139, 167]
n7450_sy = [159, 248, 244, 228, 207, 177, 122, 2]
n7450_gx = [-45, -23, 6, 34, 68, 82, 110, 266, 294, 323, 351]
n7450_gy = [82, 164, 104, 83, 71, 77, 66, 32, 3, 34, 88]
n7450_rx = [-108, -74, -51, -31, -3, 25, 51, 76, 102, 125, 159]
n7450_ry = [113, 96, 72, 71, 66, 54, 42, 42, 49, 52, 97]
n7450_lx = [-96, -51, 6, 54, 91, 133, 181, 224, 266, 309, 331, 360]
n7450_ly = [149, 181, 129, 153, 143, 143, 182, 127, 121, 132, 202, 80]
n7450_dx = [-96, -51, -17, 20, 54, 110, 167, 210, 252, 289, 309, 351, 360]
n7450_dy = [132, 120, 102, 95, 107, 118, 110, 100, 127, 196, 116, 82, 18]

names = ["MK1", "MK3", "MK1066", "N262", "N931", "N1320", "N1667", "N2110", "N2273",
         "N2685", "N2992", "N3081", "N3185", "N3516", "N4051", "N4151", "N4253", "N4388",
         "N5273", "N5506", "N7450"]
ymax = [405, 505, 225, 387, 1040, 230, 508, 435, 255, 123, 900, 590, 142, 505, 734, 512, 512, 512, 146, 512, 295]
ystep = [100, 100, 50, 100, 200, 50, 100, 100, 50, 20, 200, 100, 20, 100, 200, 100, 100, 100, 20, 100, 50]
bar_half = [100, 100, 55, 83, 80, 55, 100, 50, 70, None, 72, 60, 28, None, 18, 32, 64, 60, 42, 50, 60]
err_x = [525, 525, 525, 525, 525, 525, 525, 525, 525, None, 525, 530, 525, None, 525, 525, 525, 525, 525, 475, 525]
ring_lines = [-352, -127, 123, 347]

series = {
    "MK1": (mk1_sx, mk1_sy, mk1_gx, mk1_gy, mk1_rx, mk1_ry, mk1_lx, mk1_ly, mk1_dx, mk1_dy),
    "MK3": (mk3_sx, mk3_sy, mk3_gx, mk3_gy, mk3_rx, mk3_ry, mk3_lx, mk3_ly, mk3_dx, mk3_dy),
    "MK1066": (mk1066_sx, mk1066_sy, mk1066_gx, mk1066_gy, mk1066_rx, mk1066_ry, mk1066_lx, mk1066_ly,
               mk1066_dx, mk1066_dy),
    "N262": (n262_sx, n262_sy, n262_gx, n262_gy, n262_rx, n262_ry, n262_lx, n262_ly, n262_dx, n262_dy),
    "N931": (n931_sx, n931_sy, n931_gx, n931_gy, n931_rx, n931_ry, n931_lx, n931_ly, n931_dx, n931_dy),
    "N1320": (n1320_sx, n1320_sy, n1320_gx, n1320_gy, n1320_rx, n1320_ry, n1320_lx, n1320_ly, n1320_dx, n1320_dy),
    "N1667": (n1667_sx, n1667_sy, n1667_gx, n1667_gy, n1667_rx, n1667_ry, n1667_lx, n1667_ly, n1667_dx, n1667_dy),
    "N2110": (n2110_sx, n2110_sy, n2110_gx, n2110_gy, n2110_rx, n2110_ry, n2110_lx, n2110_ly, n2110_dx, n2110_dy),
    "N2273": (n2273_sx, n2273_sy, n2273_gx, n2273_gy, n2273_rx, n2273_ry, n2273_lx, n2273_ly, n2273_dx, n2273_dy),
    "N2992": (n2992_sx, n2992_sy, n2992_gx, n2992_gy, n2992_rx, n2992_ry, n2992_lx, n2992_ly, n2992_dx, n2992_dy),
    "N3081": (n3081_sx, n3081_sy, n3081_gx, n3081_gy, n3081_rx, n3081_ry, n3081_lx, n3081_ly, n3081_dx, n3081_dy),
    "N3185": (n3185_sx, n3185_sy, n3185_gx, n3185_gy, n3185_rx, n3185_ry, n3185_lx, n3185_ly, n3185_dx, n3185_dy),
    "N4051": (n4051_sx, n4051_sy, n4051_gx, n4051_gy, n4051_rx, n4051_ry, n4051_lx, n4051_ly, n4051_dx, n4051_dy),
    "N4151": (n4151_sx, n4151_sy, n4151_gx, n4151_gy, n4151_rx, n4151_ry, n4151_lx, n4151_ly, n4151_dx, n4151_dy),
    "N4253": (n4253_sx, n4253_sy, n4253_gx, n4253_gy, n4253_rx, n4253_ry, n4253_lx, n4253_ly, n4253_dx, n4253_dy),
    "N4388": (n4388_sx, n4388_sy, n4388_gx, n4388_gy, n4388_rx, n4388_ry, n4388_lx, n4388_ly, n4388_dx, n4388_dy),
    "N5273": (n5273_sx, n5273_sy, n5273_gx, n5273_gy, n5273_rx, n5273_ry, n5273_lx, n5273_ly, n5273_dx, n5273_dy),
    "N5506": (n5506_sx, n5506_sy, n5506_gx, n5506_gy, n5506_rx, n5506_ry, n5506_lx, n5506_ly, n5506_dx, n5506_dy),
    "N7450": (n7450_sx, n7450_sy, n7450_gx, n7450_gy, n7450_rx, n7450_ry, n7450_lx, n7450_ly, n7450_dx, n7450_dy),
}

star_c = "#5ab6f6"
green_c = "#3fe882"
red_c = "#f41a1a"
dash = (0, (11, 8))

W, H = 1276, 1591
fig = plt.figure(figsize=(W / 100, H / 100), dpi=100)

col_left = [63, 483, 901]
ax_w, ax_h = 343, 179

for i, name in enumerate(names):
    row, col = divmod(i, 3)
    top = 6 + row * 226.5
    ax = fig.add_axes([col_left[col] / W, 1 - (top + ax_h) / H, ax_w / W, ax_h / H])
    ym = ymax[i]
    ax.set_xlim(-600, 600)
    ax.set_ylim(-0.008 * ym, ym)

    # vertical reference radii
    for xv in ring_lines:
        ax.plot([xv, xv], [-0.01 * ym, ym], color="#8c8c8c", lw=1.0, linestyle=dash, zorder=1)

    if name in series:
        sx, sy, gx, gy, rx, ry, lx, ly, dx, dy = series[name]
        ax.plot(lx, ly, color="black", lw=0.9, zorder=2)
        ax.plot(dx, dy, color="black", lw=0.9, linestyle=dash, zorder=2)
        ax.plot(sx, sy, linestyle="none", marker="*", ms=12, color=star_c, mec=star_c, zorder=3)
        ax.plot(gx, gy, linestyle="none", marker="o", ms=7, color=green_c, mec=green_c, zorder=4)
        ax.plot(rx, ry, linestyle="none", marker="s", ms=7, color=red_c, mec=red_c, zorder=5)

    if bar_half[i] is not None:
        ax.plot([-bar_half[i], bar_half[i]], [0.86 * ym, 0.86 * ym], color="black", lw=3.5,
                solid_capstyle="butt", zorder=6)
    if err_x[i] is not None:
        ax.errorbar([err_x[i]], [0.80 * ym], yerr=[20], fmt="o", color="black", ms=6,
                    capsize=5, elinewidth=1.2, capthick=1.2, zorder=6)

    lab_x = 0.115 if name in ("N2685", "N3516") else 0.075
    ax.text(lab_x, 0.865, name, transform=ax.transAxes, fontsize=18, va="center", ha="left",
            color="#222222", fontweight="light")

    ax.xaxis.set_major_locator(MultipleLocator(200))
    ax.xaxis.set_minor_locator(MultipleLocator(50))
    ax.yaxis.set_major_locator(MultipleLocator(ystep[i]))
    ax.yaxis.set_minor_locator(AutoMinorLocator(5))
    ax.tick_params(which="both", direction="in", top=True, right=True, labelsize=10)
    ax.tick_params(which="major", length=6, width=0.8)
    ax.tick_params(which="minor", length=3, width=0.6)
    for sp in ax.spines.values():
        sp.set_linewidth(1.0)
    ax.set_xlabel("radius [pc]", fontsize=10, labelpad=3)
    ax.set_ylabel("Velocity dispersion [km/s]", fontsize=10, labelpad=2)

fig.savefig("out.png", dpi=100)
